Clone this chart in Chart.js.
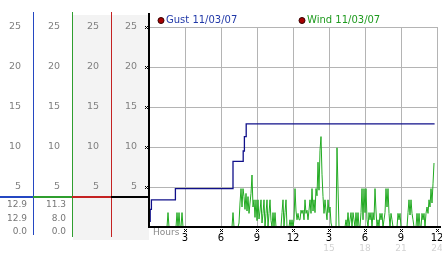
<!DOCTYPE html>
<html>
<head>
<meta charset="utf-8">
<script src="https://cdn.jsdelivr.net/npm/chart.js@4/dist/chart.umd.min.js"></script>
<style>
  html, body { margin: 0; padding: 0; background: #fff; }
  #wrap { width: 442px; height: 253px; }
</style>
</head>
<body>
<div id="wrap"><canvas id="grafico_vento" width="442" height="253"></canvas></div>
<script>
// hour ticks
const tickHours = [0, 3, 6, 9, 12, 15, 18, 21, 24];
const tickLabels = ['', '3', '6', '9', '12', '3', '6', '9', '12'];
const tickLabels24 = ['', '', '', '', '', '15', '18', '21', '24'];
const yTicks = [5, 10, 15, 20, 25];

// gust (peak so far), drawn stepped
const gustHours = [0, 0.1, 0.2, 2.2, 7.0, 7.85, 7.95, 8.1, 23.8];
const gustValues = [0.7, 2.2, 3.4, 4.8, 8.2, 9.5, 11.3, 12.9, 12.9];

// wind, one row per hour, 5 minute samples
const windRows = [
  [0, 0, 0, 0, 0, 0, 0, 0, 0, 0, 0, 0],
  [0, 0, 0, 0, 0, 0, 0, 1.8, 0, 0, 0, 0],
  [0, 0, 0, 0, 1.8, 0, 1.8, 0, 0, 1.8, 0, 0],
  [0, 0, 0, 0, 0, 0, 0, 0, 0, 0, 0, 0],
  [0, 0, 0, 0, 0, 0, 0, 0, 0, 0, 0, 0],
  [0, 0, 0, 0, 0, 0, 0, 0, 0, 0, 0, 0],
  [0, 0, 0, 0, 0, 0, 0, 0, 0, 0, 0, 0],
  [1.8, 0, 0, 0, 0, 0, 0.5, 3.0, 4.8, 2.5, 4.8, 3.8],
  [2.2, 4.2, 2.0, 3.8, 1.7, 3.0, 4.2, 6.5, 2.5, 3.4, 1.2, 3.4],
  [0.8, 3.4, 1.0, 2.0, 3.4, 0.5, 1.7, 3.4, 0, 1.7, 3.4, 0],
  [1.7, 3.4, 0.8, 0, 1.8, 0, 1.8, 0, 0, 0, 0, 0],
  [0, 1.8, 3.4, 0, 1.8, 3.4, 0, 0, 0, 0.9, 0, 0.9],
  [0, 0.9, 4.8, 2.0, 0.9, 1.7, 0.9, 0.9, 2.1, 1.7, 2.1, 0.9],
  [3.4, 1.7, 2.1, 0.9, 2.1, 3.4, 1.7, 4.8, 2.0, 3.4, 1.8, 4.8],
  [3.9, 8.1, 4.6, 9.6, 11.3, 6.6, 3.8, 1.7, 3.4, 2.0, 0.9, 3.4],
  [1.8, 2.5, 0.5, 0, 0, 0, 0, 0, 9.9, 4.9, 0, 0],
  [0, 0, 0, 0, 0, 0.9, 0, 1.8, 0, 0.9, 1.8, 0],
  [1.8, 0.9, 0, 1.8, 0, 1.8, 0, 0, 1.8, 4.8, 0.9, 4.8],
  [1.8, 4.8, 0.9, 0, 1.8, 0.9, 1.8, 0, 1.8, 0.9, 4.8, 2.0],
  [0, 0.9, 0, 1.7, 0.9, 1.7, 0, 0.9, 1.8, 4.8, 2.5, 4.8],
  [1.7, 0, 1.7, 0.9, 0, 0, 0, 0, 0, 1.7, 0.9, 1.7],
  [0, 0, 0, 0, 0, 0, 0, 1.8, 3.4, 1.5, 3.4, 1.7],
  [0.9, 0, 0, 0, 1.7, 0, 1.7, 0, 0, 1.7, 0.9, 1.7],
  [0, 1.7, 2.5, 1.7, 3.4, 2.5, 4.8, 3.0, 5.4, 8.0]
];

// max / current / min shown under the left columns
const gustStats = [12.9, 12.9, 0.0];
const windStats = [11.3, 8.0, 0.0];
const markerLevel = 3.75;

const legendItems = ['Gust 11/03/07', 'Wind 11/03/07'];

const windPoints = windRows.flat().map((v, i) => ({ x: i / 12, y: v }));
const gustPoints = gustHours.map((h, i) => ({ x: h, y: gustValues[i] }));

const FONT = 'DejaVu Sans';

function xMark(ctx, x, y) {
  // little checker cross used as tick mark
  ctx.fillRect(x, y, 1, 1);
  ctx.fillRect(x + 2, y, 1, 1);
  ctx.fillRect(x + 1, y + 1, 1, 1);
  ctx.fillRect(x, y + 2, 1, 1);
  ctx.fillRect(x + 2, y + 2, 1, 1);
}

const enfeites = {
  id: 'enfeites',
  beforeDraw(chart) {
    const { ctx, chartArea, scales } = chart;
    const left = Math.round(scales.y3.left) + 1;
    ctx.save();
    ctx.fillStyle = '#f3f3f3';
    ctx.fillRect(left, 15, chartArea.left - left, 225);
    ctx.restore();
  },
  afterDraw(chart) {
    const { ctx, chartArea, scales } = chart;
    const ys = scales.y, xs = scales.x;
    ctx.save();

    // column lines
    const cols = [
      [scales.y1, '#2447c2', 235],
      [scales.y2, '#2f9e2f', 237],
      [scales.y3, '#c42222', 237]
    ];
    cols.forEach(([s, c, bot]) => {
      ctx.fillStyle = c;
      ctx.fillRect(Math.round(s.right), 12, 1, bot - 12);
    });
    ctx.fillStyle = '#000';
    ctx.fillRect(chartArea.left - 1, 13, 2, chartArea.bottom - 13);
    ctx.fillRect(chartArea.left - 1, chartArea.bottom - 1, 442 - chartArea.left, 2);

    // marker level across the columns
    const my = Math.round(ys.getPixelForValue(markerLevel));
    const segs = [
      [scales.y1, '#2447c2'], [scales.y2, '#2f9e2f'],
      [scales.y3, '#c42222'], [scales.y, '#000']
    ];
    segs.forEach(([s, c]) => {
      ctx.fillStyle = c;
      ctx.fillRect(s.left, my - 1, s.right - s.left + 1, 2);
    });

    // y tick marks
    ctx.fillStyle = '#000';
    yTicks.forEach(v => xMark(ctx, chartArea.left - 4, Math.round(ys.getPixelForValue(v)) - 1));

    // x tick marks, hours label, second row
    tickHours.forEach((h, i) => {
      if (i === 0) return;
      const px = Math.round(xs.getPixelForValue(h));
      ctx.fillStyle = '#000';
      xMark(ctx, px - 1, 229);
      if (tickLabels24[i]) {
        ctx.fillStyle = '#d2d2d2';
        ctx.font = '9px "' + FONT + '"';
        ctx.textAlign = 'center';
        ctx.textBaseline = 'middle';
        ctx.fillText(tickLabels24[i], px, 248.5);
      }
    });
    ctx.fillStyle = '#8a8a8a';
    ctx.font = '9px "' + FONT + '"';
    ctx.textAlign = 'left';
    ctx.textBaseline = 'middle';
    ctx.fillText('Hours', 153, 233);

    // stats under columns
    ctx.textAlign = 'right';
    ctx.fillStyle = '#777';
    const rowsY = [205, 218.5, 232];
    gustStats.forEach((v, i) => ctx.fillText(v.toFixed(1), scales.y1.right - 6, rowsY[i]));
    windStats.forEach((v, i) => ctx.fillText(v.toFixed(1), scales.y2.right - 6, rowsY[i]));

    // legend
    const leg = [[161, '#2038a8'], [302, '#1e9a1e']];
    ctx.font = '10px "' + FONT + '"';
    ctx.textAlign = 'left';
    leg.forEach(([lx, c], i) => {
      ctx.beginPath();
      ctx.arc(lx, 20.5, 3, 0, Math.PI * 2);
      ctx.fillStyle = '#a80000';
      ctx.fill();
      ctx.strokeStyle = '#300';
      ctx.lineWidth = 1;
      ctx.stroke();
      ctx.fillStyle = c;
      ctx.fillText(legendItems[i], lx + 5, 20.5);
    });
    ctx.restore();
  }
};

function sideAxis(weight, width, showGrid) {
  return {
    type: 'linear',
    position: 'left',
    weight,
    min: 0,
    max: 25,
    afterFit: s => { s.width = width; },
    afterBuildTicks: s => { s.ticks = [0].concat(yTicks).map(v => ({ value: v })); },
    grid: { display: showGrid, drawTicks: false, color: '#b4b4b4', lineWidth: 1 },
    border: { display: false },
    ticks: {
      padding: 12,
      color: '#808080',
      font: { family: FONT, size: 9.5 },
      callback: v => (v === 0 ? '' : String(v))
    }
  };
}

const ctx_vento = document.getElementById('grafico_vento').getContext('2d');

const grafico_vento = new Chart(ctx_vento, {
  type: 'line',
  data: {
    datasets: [
      {
        label: legendItems[0],
        data: gustPoints,
        borderColor: '#10108a',
        borderWidth: 1.3,
        stepped: true,
        pointRadius: 0,
        fill: false
      },
      {
        label: legendItems[1],
        data: windPoints,
        borderColor: '#22aa22',
        borderWidth: 1,
        pointRadius: 0,
        tension: 0,
        fill: false
      }
    ]
  },
  options: {
    responsive: false,
    animation: false,
    devicePixelRatio: 1,
    layout: { padding: { top: 27, right: 5, left: 0, bottom: 0 } },
    plugins: { legend: { display: false }, tooltip: { enabled: false } },
    scales: {
      x: {
        type: 'linear',
        min: 0,
        max: 24,
        afterBuildTicks: s => { s.ticks = tickHours.map(v => ({ value: v })); },
        afterFit: s => { s.height = 26; s.paddingLeft = 0; s.paddingRight = 0; },
        grid: { drawTicks: false, color: '#b4b4b4', lineWidth: 1 },
        border: { display: false },
        ticks: {
          padding: 5,
          maxRotation: 0,
          autoSkip: false,
          color: '#000',
          font: { family: FONT, size: 10 },
          callback: (v, i) => tickLabels[i]
        }
      },
      y: sideAxis(1, 38, true),
      y3: sideAxis(2, 39, false),
      y2: sideAxis(3, 39, false),
      y1: sideAxis(4, 33, false)
    }
  },
  plugins: [enfeites]
});
</script>
</body>
</html>
